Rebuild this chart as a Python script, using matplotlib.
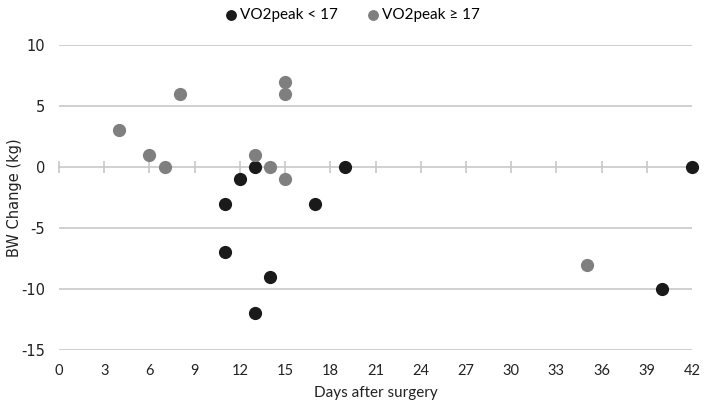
import matplotlib
matplotlib.use("Agg")
import matplotlib.pyplot as plt
import numpy as np

plt.rcParams["axes.unicode_minus"] = False

low_days = [11, 11, 12, 13, 13, 14, 17, 19, 40, 42]
low_change = [-3, -7, -1, 0, -12, -9, -3, 0, -10, 0]
high_days = [4, 6, 7, 8, 13, 14, 15, 15, 15, 35]
high_change = [3, 1, 0, 6, 1, 0, 7, 6, -1, -8]
x_ticks = list(range(0, 43, 3))
y_ticks = [-15, -10, -5, 0, 5, 10]
labels = ["VO2peak < 17", "VO2peak \u2265 17"]

fig = plt.figure(figsize=(7.08, 4.05), dpi=100)
ax = fig.add_axes([59/708, 55/405, (692-59)/708, (350-45)/405])
ax.set_xlim(0, 42)
ax.set_ylim(-15, 10)

for y in y_ticks:
    if y != 0:
        ax.axhline(y, color="#c8c8c8", lw=1.2, zorder=0)

for s in ["top", "right", "left"]:
    ax.spines[s].set_visible(False)
ax.spines["bottom"].set_position(("data", 0))
ax.spines["bottom"].set_color("#c8c8c8")
ax.spines["bottom"].set_linewidth(1.2)
ax.spines["bottom"].set_zorder(0)
ax.set_xticks(x_ticks)
ax.tick_params(axis="x", direction="inout", length=9, width=1.2, color="#c8c8c8", labelbottom=False)

sec = ax.secondary_xaxis("bottom")
sec.set_xticks(x_ticks)
sec.spines["bottom"].set_visible(False)
sec.tick_params(axis="x", length=0, pad=10, labelsize=10.5, labelcolor="#222222")
for t in sec.get_xticklabels():
    t.set_family(["Lato", "DejaVu Sans"])
sec.set_xlabel("Days after surgery", fontsize=11, family=["Lato", "DejaVu Sans"], color="#222222", labelpad=6)

ax.set_yticks(y_ticks)
ax.tick_params(axis="y", length=0, pad=10, labelsize=10.5, labelcolor="#222222")
ax.set_ylabel("BW Change (kg)", fontsize=10.5, color="#222222")
ax.yaxis.set_label_coords(-0.058, 0.5)

ax.scatter(low_days, low_change, s=72, color="#1a1a1a", label=labels[0], zorder=3, clip_on=False)
ax.scatter(high_days, high_change, s=72, color="#7f7f7f", label=labels[1], zorder=3, clip_on=False)

leg = fig.legend(loc="center", bbox_to_anchor=(0.497, 0.962), ncol=2, frameon=False,
                 prop={"family": ["Lato", "DejaVu Sans"], "size": 11},
                 handletextpad=0.1, columnspacing=1.8, markerscale=0.8, handlelength=1.0)

fig.savefig("out.png", dpi=100)
